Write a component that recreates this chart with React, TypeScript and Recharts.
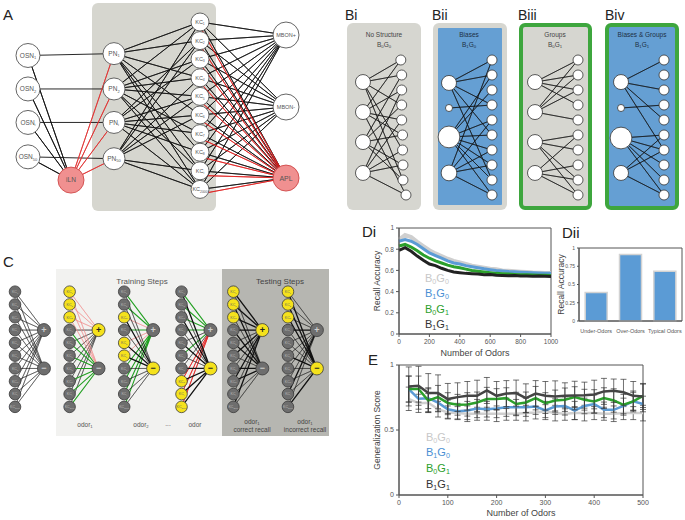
import React from 'react';
import {
  LineChart, Line, BarChart, Bar, ScatterChart, Scatter,
  XAxis, YAxis, ReferenceArea, ErrorBar,
} from 'recharts';

const FONT = '"Liberation Sans", Arial, Helvetica, sans-serif';

// ---------- Di: recall accuracy vs number of odors ----------
const diOdors = [0, 40, 80, 120, 160, 200, 240, 280, 320, 360, 400, 440, 480, 520, 560, 600, 640, 680, 720, 760, 800, 840, 880, 920, 960, 1000];
const diB0G0 = [0.89, 0.935, 0.915, 0.87, 0.83, 0.79, 0.76, 0.735, 0.71, 0.69, 0.675, 0.66, 0.645, 0.635, 0.625, 0.615, 0.61, 0.6, 0.597, 0.592, 0.588, 0.585, 0.58, 0.578, 0.576, 0.575];
const diB1G0 = [0.875, 0.89, 0.875, 0.845, 0.805, 0.765, 0.74, 0.715, 0.69, 0.67, 0.66, 0.645, 0.635, 0.625, 0.615, 0.607, 0.6, 0.595, 0.59, 0.587, 0.583, 0.58, 0.577, 0.575, 0.573, 0.572];
const diB0G1 = [0.83, 0.845, 0.82, 0.785, 0.745, 0.715, 0.69, 0.67, 0.65, 0.635, 0.625, 0.612, 0.6, 0.593, 0.585, 0.578, 0.572, 0.568, 0.565, 0.562, 0.56, 0.558, 0.556, 0.555, 0.554, 0.553];
const diB1G1 = [0.79, 0.815, 0.78, 0.735, 0.695, 0.66, 0.645, 0.62, 0.6, 0.585, 0.578, 0.572, 0.568, 0.565, 0.56, 0.562, 0.555, 0.553, 0.55, 0.552, 0.548, 0.547, 0.545, 0.546, 0.544, 0.543];
const diXTicks = [0, 200, 400, 600, 800, 1000];
const diYTicks = [0, 0.1, 0.2, 0.3, 0.4, 0.5, 0.6, 0.7, 0.8, 0.9, 1];

// ---------- Dii: recall accuracy by odor type ----------
const diiCategories = ['Under-Odors', 'Over-Odors', 'Typical Odors'];
const diiValues = [0.39, 0.91, 0.68];
const diiYTicks = [0, 0.25, 0.5, 0.75, 1];

// ---------- E: generalization score ----------
const eOdors = [20, 40, 60, 80, 100, 120, 140, 160, 180, 200, 220, 240, 260, 280, 300, 320, 340, 360, 380, 400, 420, 440, 460, 480, 500];
const eB0G0 = [0.74, 0.705, 0.71, 0.66, 0.635, 0.63, 0.625, 0.625, 0.625, 0.625, 0.625, 0.625, 0.63, 0.635, 0.645, 0.63, 0.625, 0.63, 0.63, 0.63, 0.625, 0.625, 0.63, 0.63, 0.63];
const eB1G0 = [0.815, 0.74, 0.745, 0.71, 0.66, 0.645, 0.65, 0.665, 0.66, 0.665, 0.675, 0.675, 0.675, 0.68, 0.65, 0.68, 0.685, 0.65, 0.685, 0.7, 0.655, 0.655, 0.685, 0.72, 0.7];
const eB0G1 = [0.815, 0.815, 0.727, 0.753, 0.707, 0.694, 0.697, 0.712, 0.738, 0.738, 0.745, 0.7, 0.712, 0.745, 0.707, 0.727, 0.733, 0.753, 0.733, 0.72, 0.745, 0.727, 0.694, 0.72, 0.763];
const eB1G1 = [0.835, 0.84, 0.784, 0.784, 0.738, 0.753, 0.763, 0.763, 0.804, 0.763, 0.78, 0.784, 0.745, 0.78, 0.763, 0.758, 0.763, 0.765, 0.768, 0.773, 0.797, 0.802, 0.79, 0.763, 0.758];
const eB0G0Err = [0.09, 0.07, 0.07, 0.06, 0.05, 0.05, 0.06, 0.05, 0.05, 0.06, 0.05, 0.05, 0.06, 0.05, 0.05, 0.06, 0.05, 0.05, 0.06, 0.05, 0.05, 0.06, 0.05, 0.05, 0.06];
const eB1G0Err = [0.1, 0.08, 0.08, 0.07, 0.07, 0.06, 0.07, 0.07, 0.06, 0.07, 0.07, 0.06, 0.07, 0.06, 0.07, 0.06, 0.07, 0.07, 0.06, 0.07, 0.06, 0.07, 0.06, 0.07, 0.06];
const eB0G1Err = [0.1, 0.1, 0.09, 0.09, 0.08, 0.08, 0.09, 0.08, 0.09, 0.08, 0.08, 0.09, 0.08, 0.09, 0.08, 0.08, 0.09, 0.08, 0.08, 0.09, 0.08, 0.09, 0.08, 0.08, 0.09];
const eB1G1Err = [0.15, 0.15, 0.15, 0.14, 0.12, 0.11, 0.11, 0.12, 0.1, 0.11, 0.1, 0.1, 0.11, 0.1, 0.11, 0.12, 0.1, 0.11, 0.1, 0.11, 0.1, 0.09, 0.1, 0.11, 0.1];
const eXTicks = [0, 100, 200, 300, 400, 500];
const eYTicks = [0, 0.5, 1];

// ---------- A: network diagram (layer columns, row positions) ----------
const aOsnRows = [1.8, 3.6, 5.4, 7.25];
const aPnRows = [1.7, 3.6, 5.4, 7.35];
const aSubs = ['1', '2', 'i', '50'];
const aKcSubs = ['1', '2', '3', '4', '5', '6', '7', '8', 'i', '2000'];
const aIlnRow = 8.5;
const aOutRows = [0.7, 4.57, 8.39];
const aOutNames = ['MBON+', 'MBON-', 'APL'];
const aPnToKc = [[0, 1, 3, 5, 7, 8, 9], [0, 2, 3, 4, 6, 8, 9], [1, 2, 4, 5, 6, 7, 9], [0, 1, 3, 4, 5, 8, 9]];

// ---------- B: connectivity structures ----------
const bTitles = [['No Structure', '0', '0'], ['Biases', '1', '0'], ['Groups', '0', '1'], ['Biases & Groups', '1', '1']];
const bLeftRows = [[1.47, 3.47, 5.47, 7.53], [1.53, 3.2, 5.13, 7.53], [1.47, 3.47, 5.47, 7.53], [1.47, 3.2, 5.2, 7.53]];
const bLeftWeights = [[1, 1, 1, 1], [1, 0.47, 1.45, 1.05], [1, 1, 1, 1], [1, 0.47, 1.45, 1]];
const bRightShift = [[0.88, 0.9, 0.9, 0.9, 0.9, 0.92, 0.92, 0.93, 0.93, 1.0], [1, 1, 1, 1, 1, 1, 1, 1, 1, 1], [1, 1, 1, 1, 1, 1, 1, 1, 1, 1], [1, 1, 1, 1, 1, 1, 1, 1, 1, 1]];
const bEdges = [
  [[0, 1, 3, 6, 8], [0, 2, 4, 5, 9], [1, 3, 5, 7, 8], [2, 4, 6, 7, 9]],
  [[0, 1, 3, 5, 8], [3], [1, 2, 4, 5, 6, 7, 8, 9], [0, 4, 6, 7, 9]],
  [[0, 1, 2, 3], [0, 1, 2, 4], [5, 6, 8, 9], [5, 7, 8, 9]],
  [[0, 2, 4, 6], [3], [5, 6, 7, 8, 9], [5, 6, 9]],
];

// ---------- C: training / testing steps ----------
const cNetCols = [0, 1, 2, 3.05, 4, 5];
const cYellowKcs = [[], [0, 1, 2], [2, 4, 5], [7, 8, 9], [0, 1, 2], [0, 1, 2]];
const cActiveOut = ['', '+', '-', '-', '+', '-'];
const cPlusSyn = ['kkkkkkkkkk', 'pppkkkkkkk', 'ggpgppgggg', 'ggggkgkrrr', 'KKKKkKkKkK', 'kkkKkkkkKk'];
const cMinusSyn = ['kkkkkkkkkk', 'pppggggggg', 'kkKkKKkkkk', 'KkKkKkKKKK', 'kKkKKkKKkk', 'KKKkkKkkkK'];
const cOutRows = { '+': 3, '-': 6 };

// ---------- helpers ----------
const NoShape = () => <g />;

const star = (hub: any, spokes: any[]) => spokes.flatMap((s) => [hub, s]).concat([hub]);

const edge = (key: string, data: any[], stroke: string, width: number, opacity = 1) => (
  <Scatter
    key={key}
    data={data}
    line={{ stroke, strokeWidth: width, strokeOpacity: opacity }}
    lineType="joint"
    shape={NoShape}
    isAnimationActive={false}
  />
);

const SvgSub = ({ x, y, main, sub, size, color, weight }: any) => (
  <text x={x} y={y + size * 0.35} textAnchor="middle" fontSize={size} fill={color} fontFamily={FONT} fontWeight={weight}>
    {main}
    {sub ? <tspan fontSize={size * 0.62} dy={size * 0.22}>{sub}</tspan> : null}
  </text>
);

const Txt = ({ x, y, size, color = '#222', anchor = 'start', children }: any) => (
  <div
    style={{
      position: 'absolute', left: x, top: y,
      transform: `translate(${anchor === 'middle' ? '-50%' : '0'}, -50%)`,
      fontSize: size, color, whiteSpace: 'nowrap', lineHeight: 1.1, fontFamily: FONT, textAlign: 'center',
    }}
  >
    {children}
  </div>
);

const S = ({ children }: any) => (
  <span style={{ fontSize: '0.65em', position: 'relative', top: '0.3em' }}>{children}</span>
);
const BG = ({ b, g }: any) => (
  <>B<S>{b}</S>G<S>{g}</S></>
);

const Box = ({ x, y, w, h, bg, border, radius = 6 }: any) => (
  <div
    style={{
      position: 'absolute', left: x, top: y, width: w, height: h, background: bg,
      borderRadius: radius, boxSizing: 'border-box', border: border || 'none',
    }}
  />
);

const Diagram = ({ left, top, width, height, xDomain, yDomain, children }: any) => (
  <div style={{ position: 'absolute', left, top }}>
    <ScatterChart width={width} height={height} margin={{ top: 0, right: 0, bottom: 0, left: 0 }}>
      <XAxis type="number" dataKey="x" domain={xDomain} allowDataOverflow hide tick={false} />
      <YAxis type="number" dataKey="y" domain={yDomain} allowDataOverflow hide reversed tick={false} />
      {children}
    </ScatterChart>
  </div>
);

// ---------- Panel A ----------
const aStyle: any = {
  osn: { r: 12, fill: '#fff', stroke: '#555', fs: 6.5 },
  iln: { r: 13, fill: '#f09090', stroke: '#d04848', fs: 6.5 },
  pn: { r: 11, fill: '#fff', stroke: '#555', fs: 6.5 },
  kc: { r: 9, fill: '#fff', stroke: '#555', fs: 5.5 },
  mbon: { r: 13, fill: '#fff', stroke: '#555', fs: 5.5 },
  apl: { r: 13, fill: '#f09090', stroke: '#d04848', fs: 7 },
};

const ANode = (props: any) => {
  const { cx, cy, payload } = props;
  const st = aStyle[payload.kind];
  return (
    <g>
      <circle cx={cx} cy={cy} r={st.r} fill={st.fill} stroke={st.stroke} strokeWidth={0.9} />
      <SvgSub x={cx} y={cy} main={payload.main} sub={payload.sub} size={st.fs} color="#555" />
    </g>
  );
};

const PanelA = () => {
  const osn = aOsnRows.map((y, i) => ({ x: 0, y, kind: 'osn', main: 'OSN', sub: aSubs[i] }));
  const iln = { x: 1, y: aIlnRow, kind: 'iln', main: 'iLN', sub: '' };
  const pn = aPnRows.map((y, i) => ({ x: 2, y, kind: 'pn', main: 'PN', sub: aSubs[i] }));
  const kc = aKcSubs.map((s, i) => ({ x: 4, y: i, kind: 'kc', main: 'KC', sub: s }));
  const out = aOutRows.map((y, i) => ({ x: 6, y, kind: i === 2 ? 'apl' : 'mbon', main: aOutNames[i], sub: '' }));
  const nodes = [...osn, iln, ...pn, ...kc, ...out];
  return (
    <Diagram left={0} top={0} width={330} height={215} xDomain={[-0.651, 7.023]} yDomain={[-1.183, 10.376]}>
      {osn.map((o, i) => edge(`op${i}`, [o, pn[i]], '#111', 0.9))}
      {edge('oi', star(iln, osn), '#111', 0.9)}
      {edge('ip', star(iln, pn), '#e03030', 0.8)}
      {pn.map((p, i) => edge(`pk${i}`, star(p, aPnToKc[i].map((k) => kc[k])), '#111', 0.8))}
      {edge('km0', star(out[0], kc), '#111', 0.8)}
      {edge('km1', star(out[1], kc), '#111', 0.8)}
      {edge('ka', star(out[2], kc), '#111', 0.8)}
      {edge('kar', star(out[2], kc.map((k) => ({ x: k.x, y: k.y + 0.25 }))), '#e02020', 0.8)}
      <Scatter data={nodes} shape={ANode} isAnimationActive={false} />
    </Diagram>
  );
};

// ---------- Panel B ----------
const BNode = (props: any) => {
  const { cx, cy, payload } = props;
  return <circle cx={cx} cy={cy} r={payload.side === 'L' ? 7.5 * payload.w : 5} fill="#fff" stroke="#333" strokeWidth={0.8} />;
};

const PanelB = () => {
  const els: any[] = [];
  const nodes: any[] = [];
  bLeftRows.forEach((rows, s) => {
    const left = rows.map((y, i) => ({ x: 2 * s, y, side: 'L', w: bLeftWeights[s][i] }));
    const right = bRightShift[s].map((d, i) => ({ x: 2 * s + d, y: i, side: 'R', w: 1 }));
    left.forEach((l, i) => els.push(edge(`b${s}${i}`, star(l, bEdges[s][i].map((k) => right[k])), '#111', 0.6)));
    nodes.push(...left, ...right);
  });
  return (
    <Diagram left={330} top={0} width={355} height={215} xDomain={[-0.767, 7.488]} yDomain={[-4, 10.333]}>
      {els}
      <Scatter data={nodes} shape={BNode} isAnimationActive={false} />
    </Diagram>
  );
};

// ---------- Panel C ----------
const cSynStyle: any = {
  k: { stroke: '#1a1a1a', w: 0.5, o: 0.85 },
  K: { stroke: '#111', w: 1.3, o: 1 },
  g: { stroke: '#22a022', w: 1.1, o: 1 },
  r: { stroke: '#e02020', w: 0.8, o: 0.9 },
  p: { stroke: '#f08a8a', w: 0.6, o: 0.8 },
};

const CNode = (props: any) => {
  const { cx, cy, payload } = props;
  const isOut = payload.kind === 'out';
  const fill = payload.on ? '#f5e21c' : '#6e6e6e';
  return (
    <g>
      <circle cx={cx} cy={cy} r={isOut ? 6.5 : 5.8} fill={fill} stroke="#3a3a3a" strokeWidth={0.8} />
      {isOut ? (
        <text x={cx} y={cy + 3} textAnchor="middle" fontSize={9} fontWeight="bold" fill={payload.on ? '#222' : '#cfcfcf'} fontFamily={FONT}>{payload.main}</text>
      ) : (
        <SvgSub x={cx} y={cy} main="KC" sub={payload.sub} size={3.6} color={payload.on ? '#666' : '#bdbdbd'} />
      )}
    </g>
  );
};

const PanelC = () => {
  const els: any[] = [];
  const nodes: any[] = [];
  cNetCols.forEach((col, n) => {
    const kcs = aKcSubs.map((s, i) => ({ x: col, y: i, kind: 'kc', sub: s, on: cYellowKcs[n].includes(i) }));
    const plus = { x: col + 0.53, y: cOutRows['+'], kind: 'out', main: '+', on: cActiveOut[n] === '+' };
    const minus = { x: col + 0.53, y: cOutRows['-'], kind: 'out', main: '−', on: cActiveOut[n] === '-' };
    [[plus, cPlusSyn[n]], [minus, cMinusSyn[n]]].forEach(([hub, codes]: any, h) => {
      Object.keys(cSynStyle).forEach((c) => {
        const spokes = kcs.filter((_, i) => codes[i] === c);
        if (spokes.length) {
          const st = cSynStyle[c];
          els.push(edge(`c${n}${h}${c}`, star(hub, spokes), st.stroke, st.w, st.o));
        }
      });
    });
    nodes.push(...kcs, plus, minus);
  });
  return (
    <Diagram left={0} top={225} width={330} height={215} xDomain={[-0.275, 5.77]} yDomain={[-5.21, 11.59]}>
      {els}
      <Scatter data={nodes} shape={CNode} isAnimationActive={false} />
    </Diagram>
  );
};

// ---------- charts ----------
const axisTick = (size: number) => ({ fontSize: size, fill: '#555', fontFamily: FONT });

const PanelDi = () => {
  const data = diOdors.map((x, i) => ({ x, b0g0: diB0G0[i], b1g0: diB1G0[i], b0g1: diB0G1[i], b1g1: diB1G1[i] }));
  return (
    <div style={{ position: 'absolute', left: 350, top: 220 }}>
      <LineChart width={210} height={150} data={data} margin={{ top: 8, right: 9, bottom: 0, left: 0 }}>
        <ReferenceArea x1={0} x2={1000} y1={0} y2={1} fill="none" stroke="#555" strokeWidth={1} />
        <XAxis dataKey="x" type="number" domain={[0, 1000]} ticks={diXTicks} tick={axisTick(6.5)} tickSize={3} stroke="#555" height={36}
          label={{ value: 'Number of Odors', position: 'insideBottom', offset: 14, fontSize: 9, fill: '#444', fontFamily: FONT }} />
        <YAxis type="number" domain={[0, 1]} ticks={diYTicks} tick={axisTick(6.5)} tickSize={3} width={49} stroke="#555"
          label={{ value: 'Recall Accuracy', angle: -90, position: 'center', dx: 2.5, fontSize: 8.5, fill: '#444', fontFamily: FONT }} />
        <Line dataKey="b0g0" stroke="#cfcfcf" strokeWidth={4} dot={false} isAnimationActive={false} />
        <Line dataKey="b1g0" stroke="#5b9bd5" strokeWidth={3} dot={false} isAnimationActive={false} />
        <Line dataKey="b0g1" stroke="#2ca02c" strokeWidth={3} dot={false} isAnimationActive={false} />
        <Line dataKey="b1g1" stroke="#222" strokeWidth={3} dot={false} isAnimationActive={false} />
      </LineChart>
    </div>
  );
};

const PanelDii = () => {
  const data = diiCategories.map((name, i) => ({ name, value: diiValues[i] }));
  return (
    <div style={{ position: 'absolute', left: 540, top: 240 }}>
      <BarChart width={145} height={100} data={data} margin={{ top: 8, right: 3, bottom: 0, left: 0 }} barCategoryGap="18%">
        <ReferenceArea y1={0} y2={1} fill="none" stroke="#555" strokeWidth={1} />
        <XAxis dataKey="name" tick={axisTick(5.5)} tickLine={false} interval={0} height={19} stroke="#555" />
        <YAxis type="number" domain={[0, 1]} ticks={diiYTicks} tick={axisTick(5)} tickSize={2} width={39} stroke="#555"
          label={{ value: 'Recall Accuracy', angle: -90, position: 'center', dx: 1.5, fontSize: 8.5, fill: '#444', fontFamily: FONT }} />
        <Bar dataKey="value" fill="#5b9bd5" stroke="#d2d2d2" strokeWidth={1.5} isAnimationActive={false} />
      </BarChart>
    </div>
  );
};

const PanelE = () => {
  const data = eOdors.map((x, i) => ({
    x,
    b0g0: eB0G0[i], b0g0Err: eB0G0Err[i],
    b1g0: eB1G0[i], b1g0Err: eB1G0Err[i],
    b0g1: eB0G1[i], b0g1Err: eB0G1Err[i],
    b1g1: eB1G1[i], b1g1Err: eB1G1Err[i],
  }));
  const series = [
    ['b0g0', '#cfcfcf'], ['b1g0', '#5b9bd5'], ['b0g1', '#2ca02c'], ['b1g1', '#444'],
  ];
  return (
    <div style={{ position: 'absolute', left: 350, top: 358 }}>
      <LineChart width={300} height={165} data={data} margin={{ top: 7, right: 7, bottom: 0, left: 0 }}>
        <ReferenceArea x1={0} x2={500} y1={0} y2={1} fill="none" stroke="#555" strokeWidth={1} />
        <XAxis dataKey="x" type="number" domain={[0, 500]} ticks={eXTicks} tick={axisTick(7)} tickSize={3} stroke="#555" height={28}
          label={{ value: 'Number of Odors', position: 'insideBottom', offset: 7, fontSize: 9, fill: '#444', fontFamily: FONT }} />
        <YAxis type="number" domain={[0, 1]} ticks={eYTicks} tick={axisTick(7)} tickSize={3} width={49} stroke="#555"
          label={{ value: 'Generalization Score', angle: -90, position: 'center', dx: 2, fontSize: 8.5, fill: '#444', fontFamily: FONT }} />
        {series.map(([k, c]) => (
          <Line key={k} dataKey={k} stroke={c} strokeWidth={2.5} dot={false} isAnimationActive={false}>
            <ErrorBar dataKey={`${k}Err`} width={3} stroke="#333" strokeWidth={0.7} direction="y" />
          </Line>
        ))}
      </LineChart>
    </div>
  );
};

export default function App() {
  return (
    <div style={{ position: 'absolute', left: 0, top: 0, width: 685, height: 520, overflow: 'hidden', background: '#fff', fontFamily: FONT }}>
      {/* backgrounds */}
      <Box x={92} y={3} w={124} h={208} bg="#d6d6cf" />
      <Box x={347} y={23} w={74} h={187} bg="#d6d6d0" />
      <Box x={433} y={23} w={74} h={187} bg="#d6d6d0" />
      <Box x={438} y={28} w={64} h={177} bg="#659fd3" radius={1} />
      <Box x={519} y={23} w={73} h={187} bg="#d6d6d0" border="4px solid #3ea63e" />
      <Box x={605} y={23} w={74} h={187} bg="#659fd3" border="4px solid #3ea63e" />
      <Box x={56} y={269} w={166} h={167} bg="#f2f2f0" radius={0} />
      <Box x={222} y={269} w={107} h={167} bg="#b6b6b1" radius={0} />

      <PanelA />
      <PanelB />
      <PanelC />
      <PanelDi />
      <PanelDii />
      <PanelE />

      {/* panel letters */}
      <Txt x={3} y={15} size={15}>A</Txt>
      <Txt x={345} y={16} size={14}>Bi</Txt>
      <Txt x={432} y={16} size={14}>Bii</Txt>
      <Txt x={518} y={16} size={14}>Biii</Txt>
      <Txt x={605} y={16} size={14}>Biv</Txt>
      <Txt x={3} y={262} size={15}>C</Txt>
      <Txt x={362} y={232} size={15}>Di</Txt>
      <Txt x={562} y={233} size={15}>Dii</Txt>
      <Txt x={368} y={360} size={15}>E</Txt>

      {/* B titles */}
      {bTitles.map(([t, b, g], i) => (
        <React.Fragment key={t}>
          <Txt x={[384, 469, 555, 642][i]} y={35} size={6.5} color={i % 2 ? '#1d2f44' : '#444'} anchor="middle">{t}</Txt>
          <Txt x={[384, 469, 555, 642][i]} y={45} size={6.5} color={i % 2 ? '#1d2f44' : '#444'} anchor="middle"><BG b={b} g={g} /></Txt>
        </React.Fragment>
      ))}

      {/* C texts */}
      <Txt x={142} y={282} size={8} color="#555" anchor="middle">Training Steps</Txt>
      <Txt x={280} y={282} size={8} color="#444" anchor="middle">Testing Steps</Txt>
      <Txt x={85} y={425} size={6.5} color="#555" anchor="middle">odor<S>1</S></Txt>
      <Txt x={141} y={425} size={6.5} color="#555" anchor="middle">odor<S>2</S></Txt>
      <Txt x={168} y={424} size={6.5} color="#555" anchor="middle">...</Txt>
      <Txt x={195} y={425} size={6.5} color="#555" anchor="middle">odor</Txt>
      <Txt x={252} y={425} size={6.5} color="#444" anchor="middle">odor<S>1</S><br />correct recall</Txt>
      <Txt x={305} y={425} size={6.5} color="#444" anchor="middle">odor<S>1</S><br />incorrect recall</Txt>

      {/* Di legend */}
      <Txt x={425} y={278} size={11} color="#c8c8c8"><BG b="0" g="0" /></Txt>
      <Txt x={425} y={293} size={11} color="#4a8fd4"><BG b="1" g="0" /></Txt>
      <Txt x={425} y={309} size={11} color="#2ca02c"><BG b="0" g="1" /></Txt>
      <Txt x={425} y={324} size={11} color="#333"><BG b="1" g="1" /></Txt>

      {/* E legend */}
      <Txt x={426} y={437} size={11} color="#c8c8c8"><BG b="0" g="0" /></Txt>
      <Txt x={426} y={452} size={11} color="#4a8fd4"><BG b="1" g="0" /></Txt>
      <Txt x={426} y={468} size={11} color="#2ca02c"><BG b="0" g="1" /></Txt>
      <Txt x={426} y={484} size={11} color="#333"><BG b="1" g="1" /></Txt>
    </div>
  );
}
